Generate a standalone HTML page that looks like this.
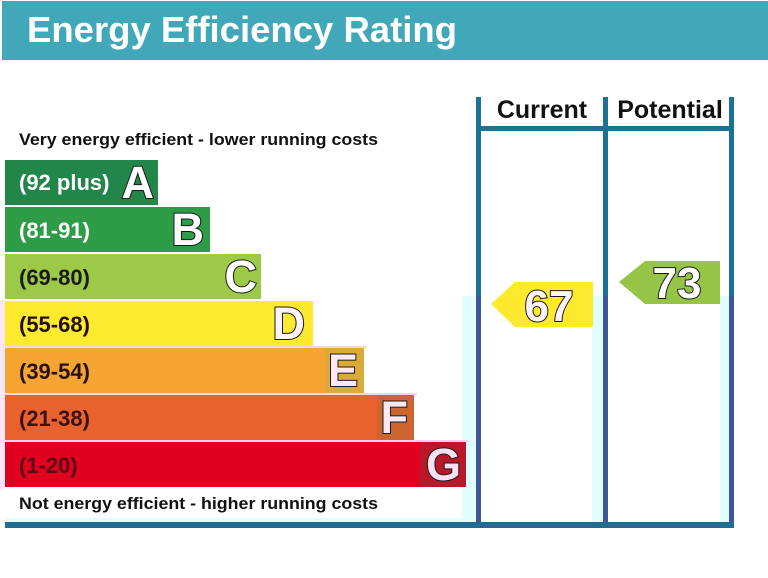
<!DOCTYPE html>
<html>
<head>
<meta charset="utf-8">
<style>
html,body{margin:0;padding:0;background:#fff;}
svg{display:block;}
text{font-family:"Liberation Sans",Arial,sans-serif;font-weight:bold;}
</style>
</head>
<body>
<svg width="768" height="578" viewBox="0 0 768 578" xmlns="http://www.w3.org/2000/svg">
  <rect x="0" y="0" width="768" height="578" fill="#ffffff"/>
  <!-- Header -->
  <rect x="2" y="1" width="766" height="59" fill="#40a8b8"/>
  <text x="27" y="42" font-size="36.5" fill="#ffffff" textLength="430" lengthAdjust="spacingAndGlyphs">Energy Efficiency Rating</text>

  <!-- light cyan background near columns -->
  <rect x="462" y="296" width="272" height="226" fill="#e2fdfd"/>
  <rect x="481" y="296" width="111" height="226" fill="#ffffff"/>
  <rect x="608" y="296" width="112" height="226" fill="#ffffff"/>
  <rect x="5" y="518" width="460" height="4" fill="#e2fdfd"/>
  <!-- pink left edge -->
  <rect x="0" y="300" width="5" height="190" fill="#fde6f5"/>

  <!-- top caption -->
  <text x="19" y="145" font-size="16.5" fill="#111" textLength="359" lengthAdjust="spacingAndGlyphs">Very energy efficient - lower running costs</text>

  <!-- bars -->
  <rect x="5" y="160" width="153" height="45" fill="#22854a"/>
  <rect x="5" y="207" width="205" height="45" fill="#2e9c46"/>
  <rect x="5" y="254" width="256" height="45" fill="#9cc948"/>
  <rect x="5" y="301" width="308" height="45" fill="#fde92e"/>
  <rect x="5" y="348" width="359" height="45" fill="#f4a532"/>
  <rect x="5" y="395" width="409" height="45" fill="#e9622e"/>
  <rect x="5" y="442" width="461" height="45" fill="#e0001f"/>
  <!-- pink separators -->
  <rect x="5" y="346" width="362" height="2" fill="#fbd3e6"/>
  <rect x="5" y="393" width="412" height="2" fill="#fbd3e6"/>
  <rect x="5" y="440" width="464" height="2" fill="#fbd3e6"/>
  <!-- slight darker letter zones -->
  <rect x="325" y="348" width="39" height="45" fill="#dcaa38"/>
  <rect x="377" y="395" width="37" height="45" fill="#cc6530"/>
  <rect x="420" y="442" width="46" height="45" fill="#b8182a"/>

  <!-- labels -->
  <text x="19" y="190" font-size="22" fill="#ffffff">(92 plus)</text>
  <text x="19" y="238" font-size="22" fill="#ffffff">(81-91)</text>
  <text x="19" y="285" font-size="22" fill="#1a1a1a">(69-80)</text>
  <text x="19" y="332" font-size="22" fill="#221010">(55-68)</text>
  <text x="19" y="379" font-size="22" fill="#2a1010">(39-54)</text>
  <text x="19" y="426" font-size="22" fill="#3a1010">(21-38)</text>
  <text x="19" y="473" font-size="22" fill="#5a0a14">(1-20)</text>

  <!-- letters -->
  <g font-size="45" stroke="#1a1a1a" stroke-width="2" paint-order="stroke" text-anchor="end">
    <text x="154" y="198" fill="#ffffff">A</text>
    <text x="204" y="245" fill="#ffffff">B</text>
    <text x="257" y="292" fill="#ffffff">C</text>
    <text x="305" y="339" fill="#fff4fa">D</text>
    <text x="358" y="386" fill="#fde8f4">E</text>
    <text x="408" y="433" fill="#fde8f4">F</text>
    <text x="461" y="480" fill="#fde0f0">G</text>
  </g>

  <!-- bottom caption -->
  <text x="19" y="509" font-size="16.5" fill="#111" textLength="359" lengthAdjust="spacingAndGlyphs">Not energy efficient - higher running costs</text>

  <!-- columns frame -->
  <rect x="476" y="97" width="5" height="200" fill="#1a7395"/>
  <rect x="603" y="97" width="5" height="200" fill="#1a7395"/>
  <rect x="729" y="97" width="5" height="200" fill="#1a7395"/>
  <rect x="476" y="296" width="5" height="228" fill="#3d5898"/>
  <rect x="603" y="296" width="5" height="228" fill="#3d5898"/>
  <rect x="729" y="296" width="5" height="228" fill="#3d5898"/>
  <rect x="476" y="126" width="258" height="5" fill="#1a7395"/>
  <rect x="5" y="522" width="729" height="6" fill="#1f6d93"/>

  <text x="542" y="118" font-size="25" fill="#111" text-anchor="middle">Current</text>
  <text x="670" y="118" font-size="25" fill="#111" text-anchor="middle">Potential</text>

  <!-- arrows -->
  <polygon points="491,304 515,282 593,282 593,327 515,327" fill="#fde92e"/>
  <polygon points="619,282 645,261 720,261 720,304 645,304" fill="#95c447"/>
  <g font-size="44" stroke="#1a1a1a" stroke-width="2" paint-order="stroke" text-anchor="middle">
    <text x="549" y="321" fill="#fff4fa">67</text>
    <text x="677" y="298" fill="#ffffff">73</text>
  </g>
</svg>
</body>
</html>
